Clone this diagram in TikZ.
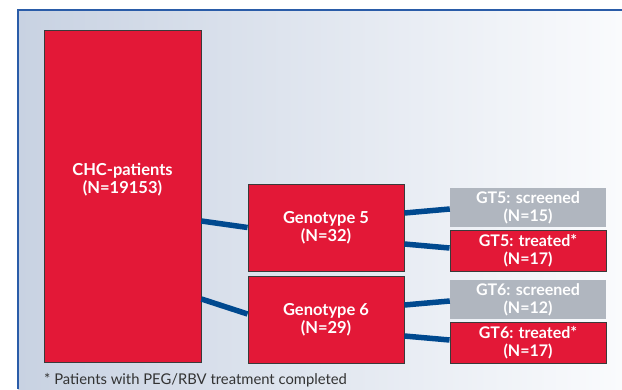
\documentclass[tikz,border=0pt]{standalone}
\usepackage{fontspec}
\setmainfont{Lato}
\definecolor{bgL}{HTML}{C8D2E2}
\definecolor{bgR}{HTML}{FAFBFD}
\definecolor{frameblue}{HTML}{2A5CA8}
\definecolor{connblue}{HTML}{00498F}
\definecolor{boxred}{HTML}{E31837}
\definecolor{boxgrey}{HTML}{B0B6BF}
\definecolor{edgegrey}{HTML}{3A3A3A}
\definecolor{notegrey}{HTML}{333333}
\tikzset{
  redbox/.style={rectangle, fill=boxred, draw=edgegrey, line width=0.9pt, inner sep=0pt, text=white, align=center, font=\fontsize{16.5}{18}\selectfont\bfseries},
  greybox/.style={rectangle, fill=boxgrey, draw=none, inner sep=0pt, text=white, align=center, font=\fontsize{16}{18}\selectfont\bfseries},
  gtred/.style={redbox, font=\fontsize{16}{18}\selectfont\bfseries},
  conn/.style={draw=connblue, line width=5.5pt},
  frameline/.style={draw=frameblue, line width=1.2pt},
  txt/.style={text=white, align=center, font=\fontsize{16.5}{18}\selectfont\bfseries}
}
\begin{document}
\begin{tikzpicture}[x=1pt,y=-1pt]
\useasboundingbox (0,0) rectangle (622,389);
\shade[left color=bgL, right color=bgR] (18,10) rectangle (622,389);
\draw[frameline] (18,389) -- (18,10) -- (622,10);
% boxes
\node[redbox, minimum width=157pt, minimum height=332pt,
  label={[txt, yshift=16pt]center:{CHC-patients\\(N=19153)}}] (chc) at (122.5,196) {};
\node[redbox, minimum width=156pt, minimum height=87pt] (g5) at (326,227.5) {Genotype 5\\(N=32)};
\node[redbox, minimum width=156pt, minimum height=87pt] (g6) at (326,319.5) {Genotype 6\\(N=29)};
\node[greybox, minimum width=156pt, minimum height=39pt] (gt5s) at (528,207.5) {GT5: screened\\(N=15)};
\node[gtred, minimum width=156pt, minimum height=41pt] (gt5t) at (528,250.5) {GT5: treated*\\(N=17)};
\node[greybox, minimum width=156pt, minimum height=39pt] (gt6s) at (528,299.5) {GT6: screened\\(N=12)};
\node[gtred, minimum width=156pt, minimum height=41pt] (gt6t) at (528,342.5) {GT6: treated*\\(N=17)};
% connectors
\draw[conn] ([yshift=-25pt]chc.east) -- (g5.west);
\draw[conn] ([yshift=-103pt]chc.east) -- ([yshift=5.5pt]g6.west);
\draw[conn] ([yshift=14.5pt]g5.east) -- ([yshift=-1.5pt]gt5s.west);
\draw[conn] ([yshift=-16.5pt]g5.east) -- ([yshift=2.5pt]gt5t.west);
\draw[conn] ([yshift=14.5pt]g6.east) -- ([yshift=-1.5pt]gt6s.west);
\draw[conn] ([yshift=-16.5pt]g6.east) -- ([yshift=2.5pt]gt6t.west);
% footnote
\node[anchor=base west, inner sep=0pt, text=notegrey, font=\fontsize{14.8}{16}\selectfont] (note) at (44,384) {* Patients with PEG/RBV treatment completed};
\end{tikzpicture}
\end{document}
